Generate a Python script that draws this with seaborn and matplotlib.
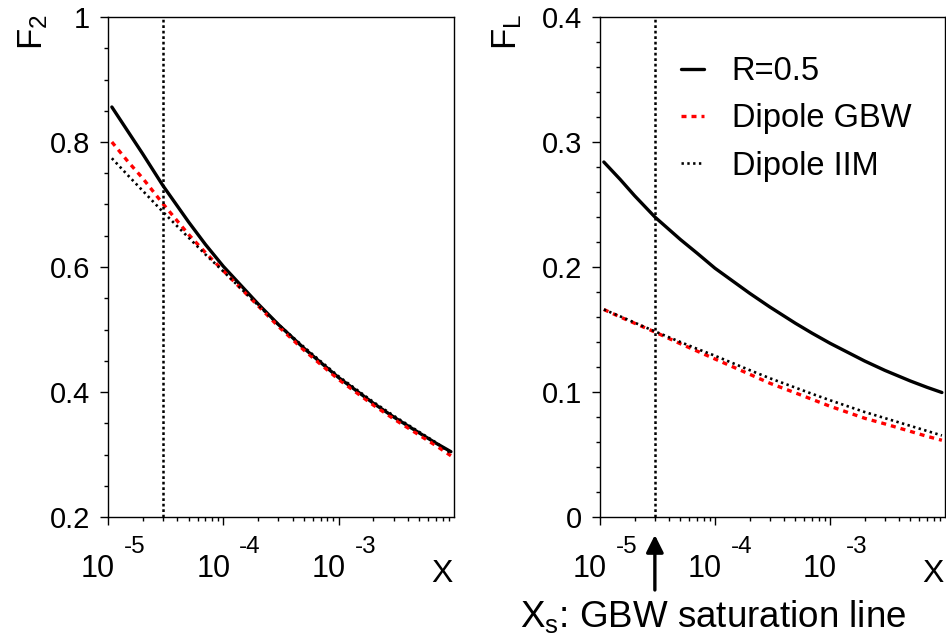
"""F2 and FL versus x: R=0.5 compared with the GBW and IIM dipole models."""

import matplotlib

matplotlib.use("Agg")
import matplotlib.pyplot as plt
import pandas as pd
import seaborn as sns
from matplotlib.ticker import FixedLocator, FuncFormatter, MultipleLocator, NullFormatter

# values
X_VALUES = [1.08e-5, 1.5e-5, 2e-5, 3e-5, 5e-5, 7e-5, 1e-4, 2e-4, 3e-4, 5e-4,
            7e-4, 1e-3, 2e-3, 3e-3, 5e-3, 7e-3, 9.4e-3]
F2_R05 = [0.856, 0.816, 0.781, 0.730, 0.672, 0.636, 0.601, 0.541, 0.508, 0.470,
          0.447, 0.423, 0.382, 0.360, 0.3345, 0.318, 0.3045]
F2_GBW = [0.800, 0.768, 0.742, 0.701, 0.652, 0.623, 0.594, 0.538, 0.505, 0.467,
          0.444, 0.420, 0.379, 0.357, 0.331, 0.314, 0.298]
F2_IIM = [0.774, 0.746, 0.722, 0.688, 0.647, 0.620, 0.593, 0.539, 0.508, 0.472,
          0.449, 0.425, 0.384, 0.362, 0.336, 0.319, 0.302]
FL_R05 = [0.284, 0.270, 0.257, 0.240, 0.222, 0.211, 0.199, 0.179, 0.168, 0.155,
          0.147, 0.139, 0.1248, 0.1173, 0.1088, 0.1037, 0.0996]
FL_GBW = [0.166, 0.160, 0.155, 0.148, 0.1386, 0.1327, 0.1264, 0.1142, 0.107, 0.0993,
          0.0941, 0.0886, 0.079, 0.0745, 0.0685, 0.0645, 0.0614]
FL_IIM = [0.166, 0.1605, 0.1555, 0.1485, 0.140, 0.1345, 0.129, 0.1175, 0.111, 0.1035,
          0.0985, 0.0934, 0.084, 0.0791, 0.0729, 0.0688, 0.0652]
X_SATURATION = 3e-5
MODELS = ["R=0.5", "Dipole GBW", "Dipole IIM"]
DECADES = [-5, -4, -3]

STYLES = {
    "R=0.5": dict(color="black", lw=2.4, linestyle="-"),
    "Dipole GBW": dict(color="#ff0000", lw=2.4, linestyle=(0, (1.5, 1.5))),
    "Dipole IIM": dict(color="black", lw=1.9, linestyle=(0, (0.9, 1.3))),
}

sns.set_theme(style="ticks")
plt.rcParams["font.family"] = ["Liberation Sans", "DejaVu Sans"]
plt.rcParams["mathtext.fontset"] = "custom"
plt.rcParams["mathtext.rm"] = "Liberation Sans"
plt.rcParams["mathtext.it"] = "Liberation Sans"
plt.rcParams["mathtext.default"] = "regular"
for key in ("text.color", "axes.labelcolor", "xtick.color", "ytick.color", "axes.edgecolor"):
    plt.rcParams[key] = "black"

df = pd.concat(
    [
        pd.DataFrame({"x": X_VALUES, "value": vals, "model": m, "panel": p})
        for p, series in (("F2", [F2_R05, F2_GBW, F2_IIM]), ("FL", [FL_R05, FL_GBW, FL_IIM]))
        for m, vals in zip(MODELS, series)
    ],
    ignore_index=True,
)

fig = plt.figure(figsize=(9.46, 6.39), dpi=100)
ax_f2 = fig.add_axes([108 / 946, 1 - 517 / 639, 346 / 946, 500 / 639])
ax_fl = fig.add_axes([600 / 946, 1 - 517 / 639, 345 / 946, 500 / 639])


def style_axis(ax, ylim, major, minor, ylabel, ylabel_dx):
    ax.set_xscale("log")
    ax.set_xlim(1e-5, 1e-2)
    ax.set_ylim(*ylim)
    ax.xaxis.set_major_locator(FixedLocator([10.0**d for d in DECADES]))
    ax.xaxis.set_minor_locator(
        FixedLocator([k * 10.0**d for d in DECADES for k in range(2, 10)])
    )
    ax.xaxis.set_major_formatter(NullFormatter())
    ax.xaxis.set_minor_formatter(NullFormatter())
    ax.yaxis.set_major_locator(MultipleLocator(major))
    ax.yaxis.set_minor_locator(MultipleLocator(minor))
    ax.yaxis.set_major_formatter(FuncFormatter(lambda v, _: f"{v:g}"))
    ax.tick_params(which="major", direction="out", length=6, width=1.0,
                   labelsize=21, pad=7, top=False, right=False)
    ax.tick_params(which="minor", direction="out", length=3, width=1.0,
                   top=False, right=False)
    for sp in ax.spines.values():
        sp.set_linewidth(1.0)
    ax.set_xlabel("")
    ax.set_ylabel("")

    # tick labels drawn as 10 with a raised exponent
    for d in DECADES:
        ax.annotate("10", xy=(10.0**d, 0), xycoords=("data", "axes fraction"),
                    xytext=(5, -43), textcoords="offset points",
                    ha="right", va="baseline", fontsize=22, annotation_clip=False)
        ax.annotate(f"{d}", xy=(10.0**d, 0), xycoords=("data", "axes fraction"),
                    xytext=(11.5, -26), textcoords="offset points",
                    ha="left", va="baseline", fontsize=17.5, annotation_clip=False)
    ax.annotate("X", xy=(1, 0), xycoords="axes fraction", xytext=(-1, -47),
                textcoords="offset points", ha="right", va="baseline", fontsize=23,
                annotation_clip=False)
    ax.annotate(ylabel, xy=(0, 1), xycoords="axes fraction", xytext=(ylabel_dx, 2),
                textcoords="offset points", ha="left", va="top", rotation=90,
                fontsize=25, annotation_clip=False)


for ax, panel in ((ax_f2, "F2"), (ax_fl, "FL")):
    for m in MODELS:
        sub = df[(df["panel"] == panel) & (df["model"] == m)]
        sns.lineplot(data=sub, x="x", y="value", ax=ax, label=m, **STYLES[m])
    ax.axvline(X_SATURATION, color="black", lw=1.8, linestyle=(0, (1.1, 1.1)))
    ax.get_legend().remove()

style_axis(ax_f2, (0.2, 1.0), 0.2, 0.05, r"$F_2$", -66)
style_axis(ax_fl, (0.0, 0.4), 0.1, 0.02, r"$F_L$", -79)

handles, labels = ax_fl.get_legend_handles_labels()
ax_fl.legend(handles[:3], labels[:3], frameon=False, loc="upper left",
             bbox_to_anchor=(0.235, 0.922), fontsize=23.5, handlelength=0.7,
             handletextpad=0.85, labelspacing=0.5, borderpad=0, borderaxespad=0)

ax_fl.annotate("", xy=(X_SATURATION, -0.036), xycoords=("data", "axes fraction"),
               xytext=(X_SATURATION, -0.146), textcoords=("data", "axes fraction"),
               arrowprops=dict(arrowstyle="-|>", color="black", lw=2.4,
                               mutation_scale=26, shrinkA=0, shrinkB=0),
               annotation_clip=False)
fig.text(520 / 946, 1 - 627 / 639, r"$X_s$: GBW saturation line", ha="left",
         va="baseline", fontsize=26.5)

fig.savefig("out.png", dpi=100)
